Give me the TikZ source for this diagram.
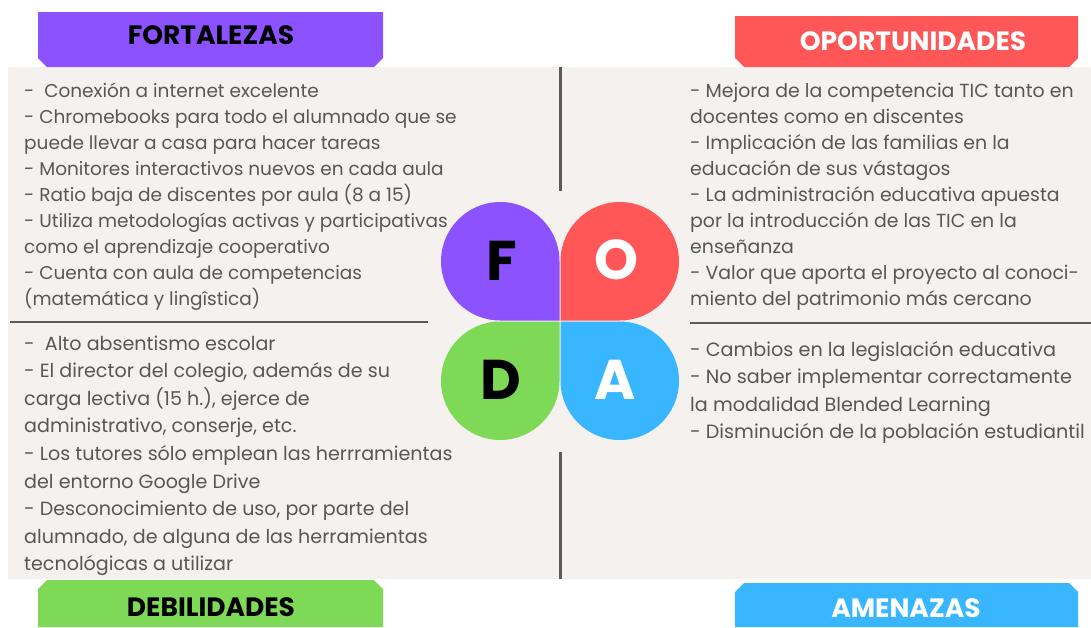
\documentclass[tikz,border=0pt]{standalone}
\usepackage{fontspec}
\setmainfont{Poppins}
\definecolor{fpurple}{HTML}{8C52FF}
\definecolor{ored}{HTML}{FF5757}
\definecolor{dgreen}{HTML}{7ED957}
\definecolor{ablue}{HTML}{38B6FF}
\definecolor{panelbg}{HTML}{F4F1EE}
\definecolor{bodytext}{HTML}{575757}
\definecolor{rulegray}{HTML}{5A5A5A}
\tikzset{
  body/.style={anchor=base west, inner sep=0pt, text=bodytext, font=\fontsize{#1}{26}\selectfont},
  body/.default=18.5,
  tabtitle/.style={anchor=base, inner sep=0pt, font=\fontsize{26.5}{30}\selectfont\bfseries},
  petalletter/.style={anchor=center, inner sep=0pt, font=\fontsize{56}{60}\selectfont\bfseries},
  divider/.style={draw=rulegray, line width=2.2pt},
}
\begin{document}
\begin{tikzpicture}[x=1pt,y=-1pt]
\useasboundingbox (0,0) rectangle (1091,627);
\fill[white] (0,0) rectangle (1091,627);
\fill[panelbg] (8,67) rectangle (1091,579);

% tabs
\fill[fpurple] (38,12) -- (383,12) -- (383,58) -- (374,67) -- (47,67) -- (38,58) -- cycle;
\fill[ored] (735,16) -- (1078,16) -- (1078,58) -- (1069,67) -- (744,67) -- (735,58) -- cycle;
\fill[dgreen] (38,627) -- (38,589) -- (47,580) -- (374,580) -- (383,589) -- (383,627) -- cycle;
\fill[ablue] (735,627) -- (735,592) -- (744,583) -- (1069,583) -- (1078,592) -- (1078,627) -- cycle;

\node[tabtitle] (tF) at (211,44) {FORTALEZAS};
\node[tabtitle, text=white] (tO) at (913,50) {OPORTUNIDADES};
\node[tabtitle] (tD) at (211,616) {DEBILIDADES};
\node[tabtitle, text=white] (tA) at (906,617) {AMENAZAS};

% dividers
\coordinate (vt1) at (560.5,67);  \coordinate (vt2) at (560.5,191);
\coordinate (vb1) at (560.5,452); \coordinate (vb2) at (560.5,579);
\coordinate (hl1) at (10,322);    \coordinate (hl2) at (428,322);
\coordinate (hr1) at (690,323);   \coordinate (hr2) at (1091,323);
\draw[divider] (vt1) -- (vt2);
\draw[divider] (vb1) -- (vb2);
\draw[divider] (hl1) -- (hl2);
\draw[divider] (hr1) -- (hr2);

% petals
\fill[fpurple, rounded corners=59.25pt] (559.5,320.5) -- (441,320.5) -- (441,202) -- (559.5,202) -- (559.5,320.5);
\fill[ored, rounded corners=59.25pt] (560.5,320.5) -- (560.5,202) -- (679,202) -- (679,320.5) -- (560.5,320.5);
\fill[dgreen, rounded corners=59.25pt] (559.5,321.5) -- (559.5,440) -- (441,440) -- (441,321.5) -- (559.5,321.5);
\fill[ablue, rounded corners=59.25pt] (560.5,321.5) -- (679,321.5) -- (679,440) -- (560.5,440) -- (560.5,321.5);

\node[petalletter] (F) at (502,261) {F};
\node[petalletter, text=white] (O) at (616,260) {O};
\node[petalletter] (D) at (501,380) {D};
\node[petalletter, text=white] (A) at (615,380) {A};

% texts
\foreach \t [count=\i] in {
  {-\ \ Conexión a internet excelente},
  {- Chromebooks para todo el alumnado que se},
  {puede llevar a casa para hacer tareas},
  {- Monitores interactivos nuevos en cada aula},
  {- Ratio baja de discentes por aula (8 a 15)},
  {- Utiliza metodologías activas y participativas},
  {como el aprendizaje cooperativo},
  {- Cuenta con aula de competencias},
  {(matemática y lingîstica)}}
  \node[body=18.5] (fo\i) at (24,{97+26*(\i-1)}) {\t};

\foreach \t [count=\i] in {
  {- Mejora de la competencia TIC tanto en},
  {docentes como en discentes},
  {- Implicación de las familias en la},
  {educación de sus vástagos},
  {- La administración educativa apuesta},
  {por la introducción de las TIC en la},
  {enseñanza},
  {- Valor que aporta el proyecto al conoci-},
  {miento del patrimonio más cercano}}
  \node[body=18.9] (op\i) at (690,{97+26*(\i-1)}) {\t};

\foreach \t [count=\i] in {
  {-\ \ Alto absentismo escolar},
  {- El director del colegio, además de su},
  {carga lectiva (15 h.), ejerce de},
  {administrativo, conserje, etc.},
  {- Los tutores sólo emplean las herrramientas},
  {del entorno Google Drive},
  {- Desconocimiento de uso, por parte del},
  {alumnado, de alguna de las herramientas},
  {tecnológicas a utilizar}}
  \node[body=19.1] (de\i) at (24,{350+27.6*(\i-1)}) {\t};

\foreach \t [count=\i] in {
  {- Cambios en la legislación educativa},
  {- No saber implementar correctamente},
  {la modalidad Blended Learning},
  {- Disminución de la población estudiantil}}
  \node[body=19.2] (am\i) at (690,{356.5+27.3*(\i-1)}) {\t};
\end{tikzpicture}
\end{document}
